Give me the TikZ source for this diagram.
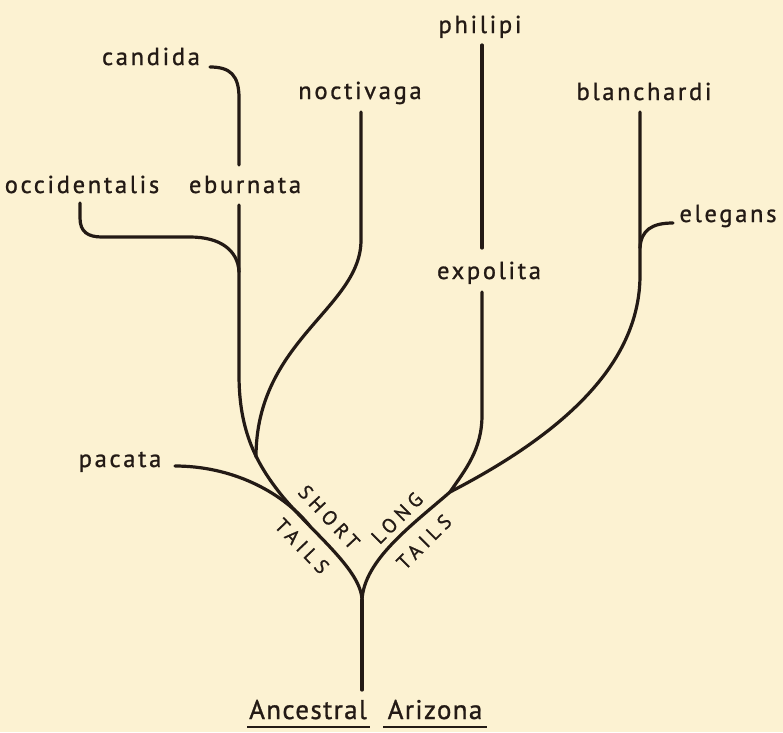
\documentclass[tikz,border=0pt]{standalone}
\usepackage{fontspec}
\setmainfont{PT Sans}[LetterSpace=11,FakeBold=1]
\newfontfamily\capsfont{PT Sans}[LetterSpace=24,FakeBold=1]
\newfontfamily\basefont{PT Sans}[LetterSpace=5,FakeBold=1]
\usetikzlibrary{calc}
\definecolor{bg}{HTML}{FCF2D2}
\definecolor{ink}{HTML}{231A15}
\begin{document}
\begin{tikzpicture}[x=1pt,y=-1pt,
  branch/.style={draw=ink,line width=3.2pt,line cap=round},
  lbl/.style={inner sep=0pt,anchor=base,text=ink,font=\fontsize{24.5}{28}\selectfont},
  caps/.style={inner sep=0pt,anchor=center,text=ink,font=\capsfont\fontsize{20}{23}\selectfont},
  baselbl/.style={inner sep=0pt,anchor=base,text=ink,font=\basefont\fontsize{27}{30}\selectfont}]
\fill[bg] (0,0) rectangle (783,732);
\useasboundingbox (0,0) rectangle (783,732);

% labels
\node[lbl] (candida) at (151,65) {candida};
\node[lbl] (occ) at (82,193) {occidentalis};
\node[lbl] (ebur) at (245,193) {eburnata};
\node[lbl] (noct) at (360,99) {noctivaga};
\node[lbl] (phil) at (480,33) {philipi};
\node[lbl] (expo) at (489,279) {expolita};
\node[lbl] (blan) at (644,100) {blanchardi};
\node[lbl] (eleg) at (728,222) {elegans};
\node[lbl] (paca) at (120,467) {pacata};
\node[baselbl] (anc) at (308,719) {Ancestral};
\node[baselbl] (ari) at (435,719) {Arizona};
\node[caps,rotate=-47] (st) at (329,517) {SHORT};
\node[caps,rotate=-46] (tl) at (302,546) {TAILS};
\node[caps,rotate=45] (lg) at (397,518) {LONG};
\node[caps,rotate=45] (tr) at (424,542) {TAILS};

% coordinates
\coordinate (root) at (362,690);
\coordinate (fork) at (362,600);
\coordinate (sj) at (283,497);
\coordinate (nj) at (256,457);
\coordinate (lv) at (239,375);
\coordinate (eb1) at (239,205);
\coordinate (eb2) at (239,165);
\coordinate (ca1) at (239,98);
\coordinate (ca2) at (210,67);
\coordinate (oj) at (239,272);
\coordinate (oc1) at (80,203);
\coordinate (pc1) at (175,466);
\coordinate (pj) at (309,525);
\coordinate (nt) at (361,112);
\coordinate (lj) at (450,492);
\coordinate (ex1) at (482,292);
\coordinate (ex2) at (482,248);
\coordinate (ph1) at (482,45);
\coordinate (bv) at (640,275);
\coordinate (bt) at (640,112);
\coordinate (el1) at (673,223);
\coordinate (elj) at (640,248);
\coordinate (u1a) at (247,727);
\coordinate (u1b) at (370,727);
\coordinate (u2a) at (383,727);
\coordinate (u2b) at (487,727);

% branches
\draw[branch] (root) -- (fork);
\draw[branch] (fork) .. controls (361,570) and (315,535) .. (sj)
  .. controls (257,465) and (239,432) .. (lv) -- (eb1);
\draw[branch] (eb2) -- (ca1) .. controls (239,75) and (230,67) .. (ca2);
\draw[branch] (oc1) -- (80,218) .. controls (80,232) and (88,237) .. (102,237)
  -- (190,237) .. controls (220,237) and (238,250) .. (oj);
\draw[branch] (nj) .. controls (256,340) and (361,308) .. (361,240) -- (nt);
\draw[branch] (pc1) .. controls (230,466) and (280,490) .. (pj);
\draw[branch] (fork) .. controls (364,560) and (412,525) .. (lj);
\draw[branch] (lj) .. controls (465,470) and (482,450) .. (482,415) -- (ex1);
\draw[branch] (ex2) -- (ph1);
\draw[branch] (lj) .. controls (570,430) and (640,360) .. (bv) -- (bt);
\draw[branch] (el1) .. controls (652,223) and (641,230) .. (elj);
\draw[ink,line width=2.6pt] (u1a) -- (u1b);
\draw[ink,line width=2.6pt] (u2a) -- (u2b);
\end{tikzpicture}
\end{document}
